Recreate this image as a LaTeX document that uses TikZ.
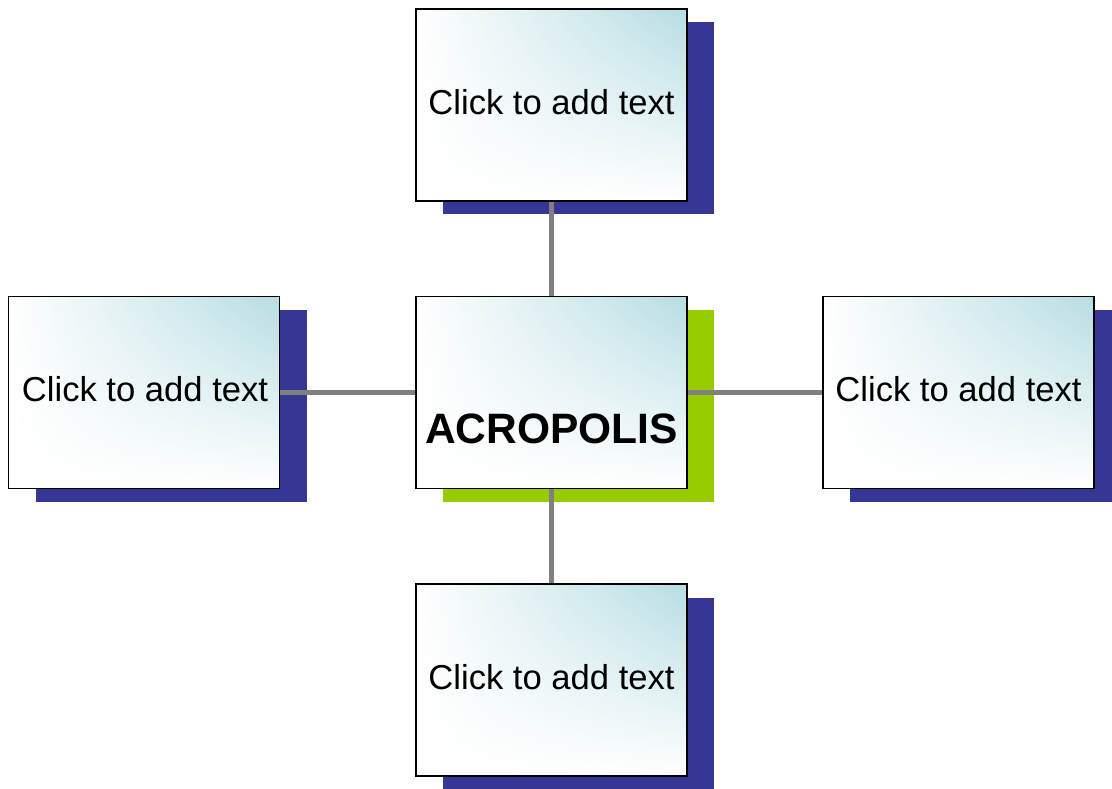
\documentclass[tikz,border=0pt]{standalone}
\usepackage{fontspec}
\setmainfont{Liberation Sans}
\usetikzlibrary{shadings}
\definecolor{shadowblue}{RGB}{54,55,149}
\definecolor{shadowgreen}{RGB}{153,204,0}
\definecolor{boxteal}{RGB}{182,221,226}
\definecolor{conngray}{RGB}{128,128,128}
\tikzset{
  box/.style={rectangle, minimum width=271pt, minimum height=192pt, inner sep=0pt,
    draw=black, line width=1.6pt,
    upper left=white, upper right=boxteal, lower left=white, lower right=white},
  shadowbox/.style={rectangle, minimum width=271pt, minimum height=192pt, inner sep=0pt, fill=#1},
  conn/.style={draw=conngray, line width=5.5pt},
  lbl/.style={font=\fontsize{34.6}{40}\selectfont, inner sep=0pt},
  title/.style={font=\fontsize{42.5}{48}\selectfont\bfseries, inner sep=0pt}
}
\begin{document}
\begin{tikzpicture}[x=1pt,y=-1pt]
\useasboundingbox (0,0) rectangle (1112,788);
% shadows
\node[shadowbox=shadowblue] (ts) at (578.5,118) {};
\node[shadowbox=shadowgreen] (cs) at (578.5,405.5) {};
\node[shadowbox=shadowblue] (ls) at (171.5,405.5) {};
\node[shadowbox=shadowblue] (rs) at (985.5,405.5) {};
\node[shadowbox=shadowblue] (bs) at (578.5,693.5) {};
% box anchors for connectors
\coordinate (tc) at (551.5,105);
\coordinate (cc) at (551.5,392.5);
\coordinate (lc) at (144,392.5);
\coordinate (rc) at (958.5,392.5);
\coordinate (bc) at (551.5,680);
\draw[conn] (tc) -- (cc);
\draw[conn] (cc) -- (bc);
\draw[conn] (lc) -- (cc);
\draw[conn] (cc) -- (rc);
% boxes
\node[box] (t) at (tc) {};
\node[box] (c) at (cc) {};
\node[box] (l) at (lc) {};
\node[box] (r) at (rc) {};
\node[box] (b) at (bc) {};
% texts
\node[lbl] (tt) at (551.5,102) {Click to add text};
\node[lbl] (lt) at (145,389.5) {Click to add text};
\node[lbl] (rt) at (958.5,389.5) {Click to add text};
\node[lbl] (bt) at (551.5,677) {Click to add text};
\node[title] (ct) at (551.5,429) {ACROPOLIS};
\end{tikzpicture}
\end{document}
